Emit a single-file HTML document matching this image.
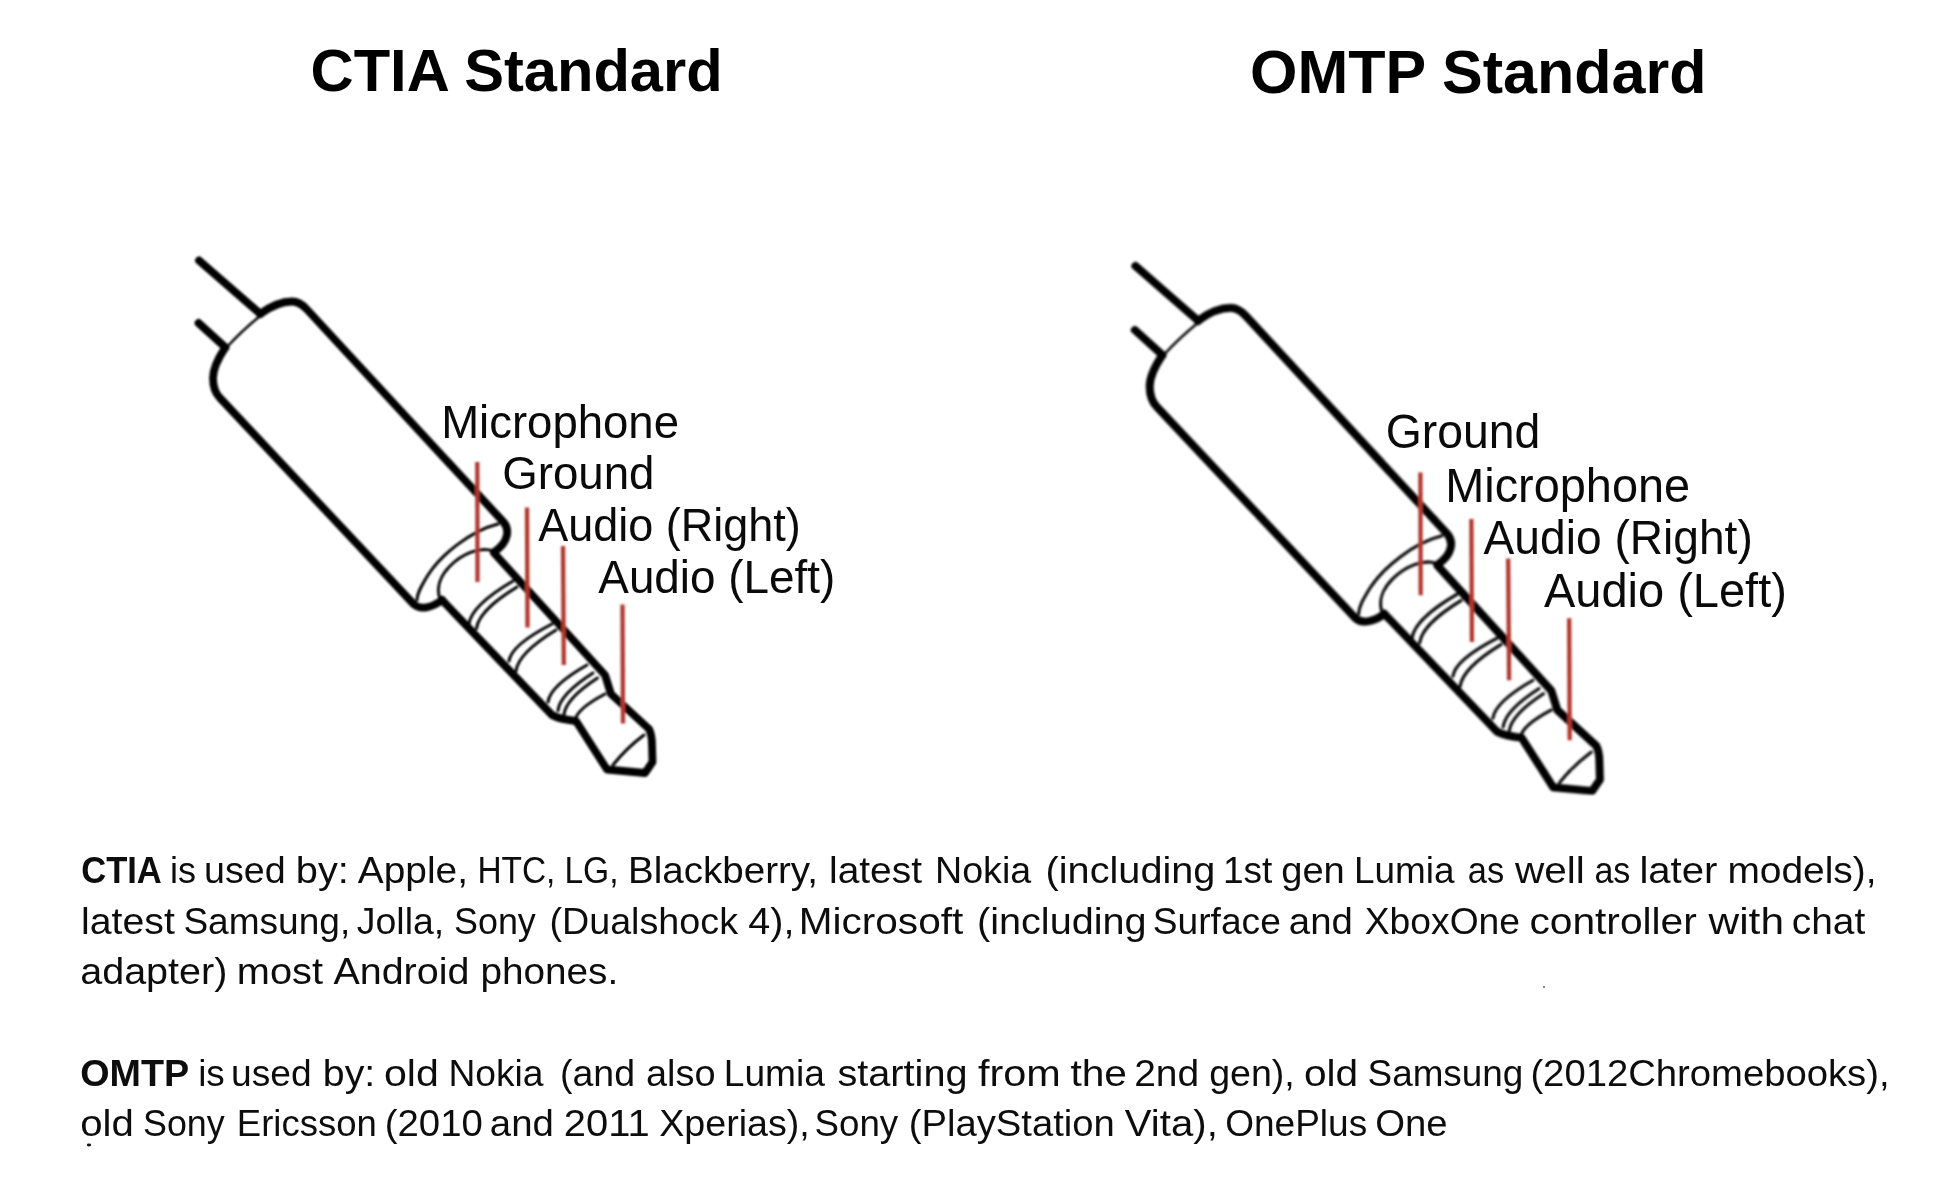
<!DOCTYPE html>
<html><head><meta charset="utf-8"><style>
html,body{margin:0;padding:0;background:#fff;width:1952px;height:1200px;overflow:hidden;}
svg{position:absolute;left:0;top:0;}
#wrap{position:absolute;left:0;top:0;width:1952px;height:1200px;}
text{font-family:"Liberation Sans",sans-serif;}
</style></head><body>
<div id="wrap">
<svg width="1952" height="1200" viewBox="0 0 1952 1200">
<defs><filter id="bl" x="-5%" y="-5%" width="110%" height="110%"><feGaussianBlur stdDeviation="0.8"/></filter><g id="jack"><g fill="none" stroke="#000" stroke-linecap="round" stroke-linejoin="round">
  <path d="M199,260.5 L260.5,314" stroke-width="7.8"/>
  <path d="M198.5,323 L225.5,347.5" stroke-width="7.8"/>
  <path d="M260,314 C271,306 282,301.5 292,301.5 C298,301.5 302,304 307,309.5 L503,521.5 C510,529 509,542 494,552" stroke-width="7.8"/>
  <path d="M225,348 C219,357 213,368 213,378 C213,387 215,393 220,398 L414,604.5 C420,610 432,608 442,600" stroke-width="7.8"/>
  <path d="M260,316 C249,325 237,336 227,347" stroke-width="2.4"/>
  <path d="M498,524 C470,531 441,555 428,575 C420,588 417,594 417,600" stroke-width="3"/>
  <path d="M493,551 C480,546 462,554 450,566 C440,576 436,588 440,599" stroke-width="3"/>
  <path d="M494,553 L605,675 C607,681 609,688 611,694 L649,729 C651,733 652,740 652,745 L652.5,762 L645,773 L607,769.5 L576,721 C567,720 559,719 552,715 L442,600" stroke-width="7.8"/>
  <path d="M513,581 C496.3,590.8 471.2,606.8 469,624" stroke-width="3"/>
  <path d="M517,587 C501.6,596.5 478.5,611.9 476.5,628.5" stroke-width="3"/>
  <path d="M552,624 C535.7,632.4 511.1,646.2 509,661" stroke-width="3"/>
  <path d="M556,630 C540.8,639.3 518.0,654.6 516,671" stroke-width="3"/>
  <path d="M587,665 C572.2,673.4 550.0,687.2 548,702" stroke-width="3"/>
  <path d="M593,673 C579.7,681.5 559.8,695.5 558,710.5" stroke-width="3"/>
  <path d="M597.5,678 C584.8,686.3 565.7,699.9 564,714.5" stroke-width="3"/>
  <path d="M605,694 C593.6,700.0 576.5,709.9 575,720.5" stroke-width="3"/>
  <path d="M644,735 Q625.9,748.5 613,765" stroke-width="3"/>
</g>
</g></defs>
<g filter="url(#bl)">
<use href="#jack"/>
<use href="#jack" transform="matrix(1.0244,0,0,1.0244,931.5,-0.9)"/>
<g stroke="#b0382e" stroke-width="4.3" fill="none" stroke-linecap="butt">
<path d="M477.3,462 L477.5,582"/>
<path d="M527,507.5 L527.5,627.5"/>
<path d="M563,546 L563.8,665"/>
<path d="M622.5,604.5 L623,723.5"/>
<path d="M1420.4,472.4 L1420.7,595.3"/>
<path d="M1471.4,519.0 L1471.9,641.9"/>
<path d="M1508.2,558.4 L1509.1,680.3"/>
<path d="M1569.2,618.3 L1569.7,740.3"/>
</g>
</g>
<g fill="#000">
<text x="310.6" y="90.6" font-size="60" textLength="412.1" lengthAdjust="spacingAndGlyphs" font-weight="bold">CTIA Standard</text>
<text x="1250" y="92.5" font-size="61" textLength="456.4" lengthAdjust="spacingAndGlyphs" font-weight="bold">OMTP Standard</text>
<text x="441.2" y="437.5" font-size="47" textLength="237.8" lengthAdjust="spacingAndGlyphs" fill="#0a0a0a">Microphone</text>
<text x="502.2" y="489.3" font-size="47" textLength="152.3" lengthAdjust="spacingAndGlyphs" fill="#0a0a0a">Ground</text>
<text x="538.3" y="540.6" font-size="47" textLength="262.5" lengthAdjust="spacingAndGlyphs" fill="#0a0a0a">Audio (Right)</text>
<text x="598.3" y="593" font-size="47" textLength="237" lengthAdjust="spacingAndGlyphs" fill="#0a0a0a">Audio (Left)</text>
<text x="1385.7" y="448" font-size="48" textLength="154.6" lengthAdjust="spacingAndGlyphs" fill="#0a0a0a">Ground</text>
<text x="1445.2" y="501.8" font-size="48" textLength="245" lengthAdjust="spacingAndGlyphs" fill="#0a0a0a">Microphone</text>
<text x="1483.6" y="553.8" font-size="48" textLength="269.2" lengthAdjust="spacingAndGlyphs" fill="#0a0a0a">Audio (Right)</text>
<text x="1543.9" y="607" font-size="48" textLength="243" lengthAdjust="spacingAndGlyphs" fill="#0a0a0a">Audio (Left)</text>
<text x="81.2" y="883.3" font-size="36" textLength="80.6" lengthAdjust="spacingAndGlyphs" font-weight="bold" fill="#0d0d0d">CTIA</text>
<text x="170.0" y="883.3" font-size="36" textLength="26.0" lengthAdjust="spacingAndGlyphs" fill="#0d0d0d">is</text>
<text x="204.0" y="883.3" font-size="36" textLength="81.6" lengthAdjust="spacingAndGlyphs" fill="#0d0d0d">used</text>
<text x="295.8" y="883.3" font-size="36" textLength="53.0" lengthAdjust="spacingAndGlyphs" fill="#0d0d0d">by:</text>
<text x="357.8" y="883.3" font-size="36" textLength="110.2" lengthAdjust="spacingAndGlyphs" fill="#0d0d0d">Apple,</text>
<text x="477.4" y="883.3" font-size="36" textLength="78.0" lengthAdjust="spacingAndGlyphs" fill="#0d0d0d">HTC,</text>
<text x="564.4" y="883.3" font-size="36" textLength="54.2" lengthAdjust="spacingAndGlyphs" fill="#0d0d0d">LG,</text>
<text x="628.0" y="883.3" font-size="36" textLength="190.0" lengthAdjust="spacingAndGlyphs" fill="#0d0d0d">Blackberry,</text>
<text x="829.0" y="883.3" font-size="36" textLength="93.0" lengthAdjust="spacingAndGlyphs" fill="#0d0d0d">latest</text>
<text x="935.0" y="883.3" font-size="36" textLength="96.2" lengthAdjust="spacingAndGlyphs" fill="#0d0d0d">Nokia</text>
<text x="1045.6" y="883.3" font-size="36" textLength="169.8" lengthAdjust="spacingAndGlyphs" fill="#0d0d0d">(including</text>
<text x="1223.0" y="883.3" font-size="36" textLength="49.4" lengthAdjust="spacingAndGlyphs" fill="#0d0d0d">1st</text>
<text x="1281.2" y="883.3" font-size="36" textLength="63.6" lengthAdjust="spacingAndGlyphs" fill="#0d0d0d">gen</text>
<text x="1354.0" y="883.3" font-size="36" textLength="100.6" lengthAdjust="spacingAndGlyphs" fill="#0d0d0d">Lumia</text>
<text x="1467.8" y="883.3" font-size="36" textLength="36.4" lengthAdjust="spacingAndGlyphs" fill="#0d0d0d">as</text>
<text x="1515.0" y="883.3" font-size="36" textLength="69.8" lengthAdjust="spacingAndGlyphs" fill="#0d0d0d">well</text>
<text x="1594.4" y="883.3" font-size="36" textLength="36.0" lengthAdjust="spacingAndGlyphs" fill="#0d0d0d">as</text>
<text x="1639.4" y="883.3" font-size="36" textLength="78.0" lengthAdjust="spacingAndGlyphs" fill="#0d0d0d">later</text>
<text x="1727.4" y="883.3" font-size="36" textLength="149.2" lengthAdjust="spacingAndGlyphs" fill="#0d0d0d">models),</text>
<text x="81.0" y="933.8" font-size="36" textLength="93.8" lengthAdjust="spacingAndGlyphs" fill="#0d0d0d">latest</text>
<text x="183.4" y="933.8" font-size="36" textLength="166.8" lengthAdjust="spacingAndGlyphs" fill="#0d0d0d">Samsung,</text>
<text x="356.8" y="933.8" font-size="36" textLength="87.4" lengthAdjust="spacingAndGlyphs" fill="#0d0d0d">Jolla,</text>
<text x="454.0" y="933.8" font-size="36" textLength="81.8" lengthAdjust="spacingAndGlyphs" fill="#0d0d0d">Sony</text>
<text x="549.4" y="933.8" font-size="36" textLength="188.6" lengthAdjust="spacingAndGlyphs" fill="#0d0d0d">(Dualshock</text>
<text x="748.2" y="933.8" font-size="36" textLength="46.2" lengthAdjust="spacingAndGlyphs" fill="#0d0d0d">4),</text>
<text x="798.8" y="933.8" font-size="36" textLength="164.4" lengthAdjust="spacingAndGlyphs" fill="#0d0d0d">Microsoft</text>
<text x="977.0" y="933.8" font-size="36" textLength="169.6" lengthAdjust="spacingAndGlyphs" fill="#0d0d0d">(including</text>
<text x="1152.8" y="933.8" font-size="36" textLength="128.0" lengthAdjust="spacingAndGlyphs" fill="#0d0d0d">Surface</text>
<text x="1288.8" y="933.8" font-size="36" textLength="64.0" lengthAdjust="spacingAndGlyphs" fill="#0d0d0d">and</text>
<text x="1364.8" y="933.8" font-size="36" textLength="155.2" lengthAdjust="spacingAndGlyphs" fill="#0d0d0d">XboxOne</text>
<text x="1529.4" y="933.8" font-size="36" textLength="167.4" lengthAdjust="spacingAndGlyphs" fill="#0d0d0d">controller</text>
<text x="1708.6" y="933.8" font-size="36" textLength="75.4" lengthAdjust="spacingAndGlyphs" fill="#0d0d0d">with</text>
<text x="1791.8" y="933.8" font-size="36" textLength="73.4" lengthAdjust="spacingAndGlyphs" fill="#0d0d0d">chat</text>
<text x="80.2" y="983.8" font-size="36" textLength="147.2" lengthAdjust="spacingAndGlyphs" fill="#0d0d0d">adapter)</text>
<text x="236.8" y="983.8" font-size="36" textLength="86.2" lengthAdjust="spacingAndGlyphs" fill="#0d0d0d">most</text>
<text x="333.4" y="983.8" font-size="36" textLength="136.0" lengthAdjust="spacingAndGlyphs" fill="#0d0d0d">Android</text>
<text x="480.4" y="983.8" font-size="36" textLength="137.8" lengthAdjust="spacingAndGlyphs" fill="#0d0d0d">phones.</text>
<text x="80.2" y="1085.8" font-size="36" textLength="109.0" lengthAdjust="spacingAndGlyphs" font-weight="bold" fill="#0d0d0d">OMTP</text>
<text x="198.2" y="1085.8" font-size="36" textLength="26.6" lengthAdjust="spacingAndGlyphs" fill="#0d0d0d">is</text>
<text x="231.0" y="1085.8" font-size="36" textLength="80.6" lengthAdjust="spacingAndGlyphs" fill="#0d0d0d">used</text>
<text x="322.8" y="1085.8" font-size="36" textLength="52.4" lengthAdjust="spacingAndGlyphs" fill="#0d0d0d">by:</text>
<text x="384.0" y="1085.8" font-size="36" textLength="54.8" lengthAdjust="spacingAndGlyphs" fill="#0d0d0d">old</text>
<text x="448.4" y="1085.8" font-size="36" textLength="95.2" lengthAdjust="spacingAndGlyphs" fill="#0d0d0d">Nokia</text>
<text x="560.0" y="1085.8" font-size="36" textLength="75.0" lengthAdjust="spacingAndGlyphs" fill="#0d0d0d">(and</text>
<text x="646.0" y="1085.8" font-size="36" textLength="69.6" lengthAdjust="spacingAndGlyphs" fill="#0d0d0d">also</text>
<text x="723.8" y="1085.8" font-size="36" textLength="101.2" lengthAdjust="spacingAndGlyphs" fill="#0d0d0d">Lumia</text>
<text x="837.4" y="1085.8" font-size="36" textLength="130.2" lengthAdjust="spacingAndGlyphs" fill="#0d0d0d">starting</text>
<text x="978.0" y="1085.8" font-size="36" textLength="82.8" lengthAdjust="spacingAndGlyphs" fill="#0d0d0d">from</text>
<text x="1070.4" y="1085.8" font-size="36" textLength="56.6" lengthAdjust="spacingAndGlyphs" fill="#0d0d0d">the</text>
<text x="1134.2" y="1085.8" font-size="36" textLength="65.0" lengthAdjust="spacingAndGlyphs" fill="#0d0d0d">2nd</text>
<text x="1209.2" y="1085.8" font-size="36" textLength="85.6" lengthAdjust="spacingAndGlyphs" fill="#0d0d0d">gen),</text>
<text x="1304.0" y="1085.8" font-size="36" textLength="54.2" lengthAdjust="spacingAndGlyphs" fill="#0d0d0d">old</text>
<text x="1367.6" y="1085.8" font-size="36" textLength="155.6" lengthAdjust="spacingAndGlyphs" fill="#0d0d0d">Samsung</text>
<text x="1530.4" y="1085.8" font-size="36" textLength="359.2" lengthAdjust="spacingAndGlyphs" fill="#0d0d0d">(2012Chromebooks),</text>
<text x="80.2" y="1136" font-size="36" textLength="53.6" lengthAdjust="spacingAndGlyphs" fill="#0d0d0d">old</text>
<text x="143.0" y="1136" font-size="36" textLength="81.6" lengthAdjust="spacingAndGlyphs" fill="#0d0d0d">Sony</text>
<text x="236.8" y="1136" font-size="36" textLength="140.0" lengthAdjust="spacingAndGlyphs" fill="#0d0d0d">Ericsson</text>
<text x="384.8" y="1136" font-size="36" textLength="98.0" lengthAdjust="spacingAndGlyphs" fill="#0d0d0d">(2010</text>
<text x="489.8" y="1136" font-size="36" textLength="64.0" lengthAdjust="spacingAndGlyphs" fill="#0d0d0d">and</text>
<text x="563.8" y="1136" font-size="36" textLength="85.8" lengthAdjust="spacingAndGlyphs" fill="#0d0d0d">2011</text>
<text x="659.2" y="1136" font-size="36" textLength="150.6" lengthAdjust="spacingAndGlyphs" fill="#0d0d0d">Xperias),</text>
<text x="814.6" y="1136" font-size="36" textLength="83.6" lengthAdjust="spacingAndGlyphs" fill="#0d0d0d">Sony</text>
<text x="908.8" y="1136" font-size="36" textLength="206.0" lengthAdjust="spacingAndGlyphs" fill="#0d0d0d">(PlayStation</text>
<text x="1124.8" y="1136" font-size="36" textLength="93.0" lengthAdjust="spacingAndGlyphs" fill="#0d0d0d">Vita),</text>
<text x="1225.2" y="1136" font-size="36" textLength="142.0" lengthAdjust="spacingAndGlyphs" fill="#0d0d0d">OnePlus</text>
<text x="1375.2" y="1136" font-size="36" textLength="72.4" lengthAdjust="spacingAndGlyphs" fill="#0d0d0d">One</text>
</g>
<ellipse cx="89" cy="1145" rx="2.2" ry="1.4" fill="#111"/>
<circle cx="1544" cy="987" r="0.9" fill="#555"/>
</svg>
</div>
</body></html>
